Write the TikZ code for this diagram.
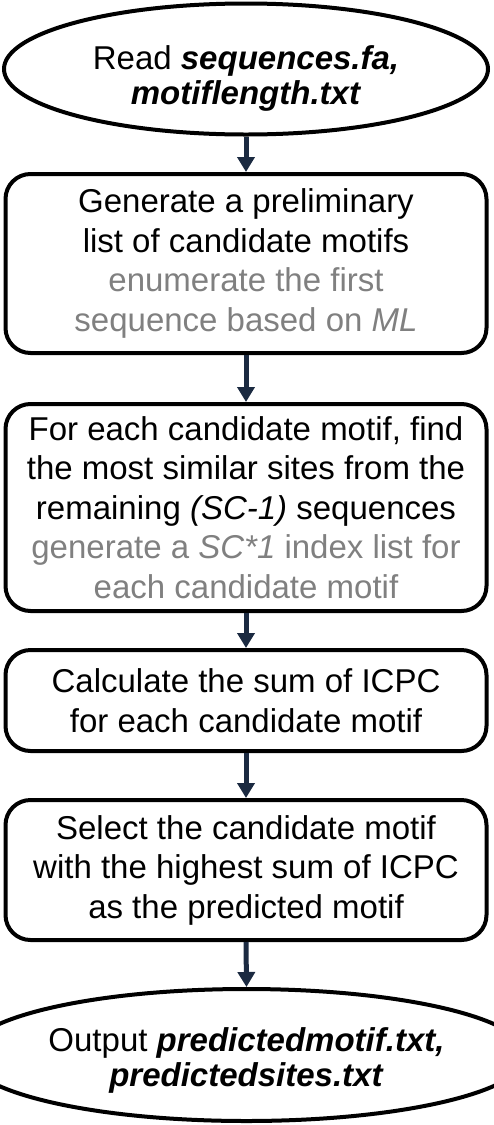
\documentclass[tikz,border=0pt]{standalone}
\usepackage{fontspec}
\setmainfont{Liberation Sans}
\usetikzlibrary{shapes.geometric,arrows.meta}
\definecolor{navy}{RGB}{27,42,65}
\definecolor{subgray}{RGB}{128,128,128}
\tikzset{
  every node/.style={font=\fontsize{33pt}{39.5pt}\selectfont, align=center, inner sep=0pt},
  oval/.style={ellipse, draw=black, line width=4pt, font=\fontsize{33pt}{35pt}\selectfont},
  stepbox/.style={rectangle, rounded corners=25pt, draw=black, line width=4pt, minimum width=481pt},
  arr/.style={draw=navy, line width=5pt, -{Triangle[width=17pt,length=15pt]}},
  sub/.style={text=subgray}
}
\begin{document}
\begin{tikzpicture}[x=1pt,y=-1pt]
\useasboundingbox (0,0) rectangle (494,1125);
\node[oval, minimum width=484pt, minimum height=131pt] (in) at (246,69)
  {\rule{0pt}{42pt}Read \textbf{\textit{sequences.fa,}}\\ \textbf{\textit{motiflength.txt}}};
\node[stepbox, minimum height=179pt] (b1) at (246,263.5)
  {Generate a preliminary\\ list of candidate motifs\\ \color{subgray}enumerate the first\\ \color{subgray}sequence based on \textit{ML}};
\node[stepbox, minimum height=207pt] (b2) at (246,507.5)
  {For each candidate motif, find\\ the most similar sites from the\\ remaining \textit{(SC-1)} sequences\\ \color{subgray}generate a \textit{SC*1} index list for\\ \color{subgray}each candidate motif};
\node[stepbox, minimum height=101pt] (b3) at (246,700.5)
  {Calculate the sum of ICPC\\ for each candidate motif};
\node[stepbox, minimum height=140pt] (b4) at (246,870)
  {Select the candidate motif\\ with the highest sum of ICPC\\ as the predicted motif};
\node[oval, minimum width=479pt, minimum height=132pt] (out) at (246.5,1055)
  {\rule{0pt}{34pt}Output \textbf{\textit{predictedmotif.txt,}}\\ \textbf{\textit{predictedsites.txt}}};
\draw[arr] (in.south) -- (b1.north);
\draw[arr] (b1.south) -- (b2.north);
\draw[arr] (b2.south) -- (b3.north);
\draw[arr] (b3.south) -- (b4.north);
\draw[arr] (b4.south) -- (out.north);
\end{tikzpicture}
\end{document}
